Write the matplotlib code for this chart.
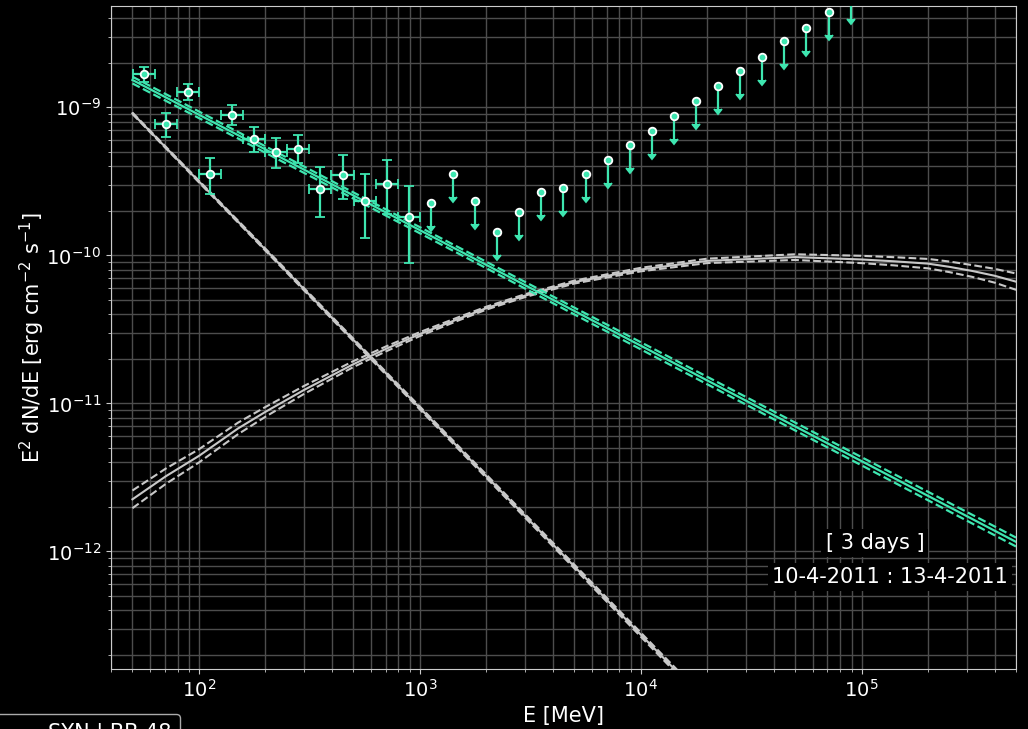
import numpy as np
import matplotlib.pyplot as plt

fs = 15
green = '#3ee6b0'
grey = '#c8c8c8'

# binned detections [MeV] and E^2 dN/dE [erg cm-2 s-1]
E_det = [56.2, 70.8, 89.1, 112, 141, 178, 224, 282, 355, 447, 562, 708, 891]
E_lo = [50.1, 63.1, 79.4, 100, 126, 158, 200, 251, 316, 398, 501, 631, 794]
E_hi = [63.1, 79.4, 100, 126, 158, 200, 251, 316, 398, 501, 631, 794, 1000]
F_det = [1.67e-9, 7.68e-10, 1.27e-9, 3.52e-10, 8.87e-10, 6.14e-10, 4.97e-10,
         5.23e-10, 2.79e-10, 3.49e-10, 2.33e-10, 3.05e-10, 1.81e-10]
F_top = [1.88e-9, 9.11e-10, 1.44e-9, 4.56e-10, 1.04e-9, 7.39e-10, 6.24e-10,
         6.50e-10, 3.94e-10, 4.74e-10, 3.52e-10, 4.40e-10, 2.95e-10]
F_bot = [1.49e-9, 6.33e-10, 1.12e-9, 2.58e-10, 7.59e-10, 4.97e-10, 3.87e-10,
         4.19e-10, 1.82e-10, 2.40e-10, 1.32e-10, 1.90e-10, 8.83e-11]

# upper limits
E_ul = [1122, 1413, 1778, 2239, 2818, 3548, 4467, 5623, 7079, 8913,
        11220, 14130, 17780, 22390, 28180, 35480, 44670, 56230, 70790, 89130]
F_ul = [2.26e-10, 3.52e-10, 2.34e-10, 1.43e-10, 1.97e-10, 2.68e-10, 2.85e-10,
        3.52e-10, 4.41e-10, 5.53e-10, 6.95e-10, 8.77e-10, 1.10e-9, 1.39e-9,
        1.75e-9, 2.18e-9, 2.79e-9, 3.43e-9, 4.39e-9, 5.6e-9]
ul_drop = 0.3

# power-law fit with its bounds
E_pl = [50, 1000, 5e5]
F_pl = [1.53e-9, 1.48e-10, 1.16e-12]
F_pl_up = [1.61e-9, 1.55e-10, 1.24e-12]
F_pl_lo = [1.45e-9, 1.41e-10, 1.08e-12]

# synchrotron tail
E_syn = [50, 1000, 2e4]
F_syn = [9.11e-10, 9.31e-12, 9.50e-14]
F_syn_up = [9.21e-10, 9.52e-12, 9.83e-14]
F_syn_lo = [9.01e-10, 9.10e-12, 9.18e-14]

# inverse Compton bump
E_ic = [50, 70.8, 100, 150, 200, 300, 500, 700, 1000, 1500, 2000, 3000, 5000,
        1e4, 2e4, 5e4, 1e5, 1.4e5, 2e5, 2.5e5, 3.16e5, 4e5, 5e5]
F_ic = [2.25e-12, 3.22e-12, 4.42e-12, 6.76e-12, 8.77e-12, 1.236e-11, 1.84e-11,
        2.33e-11, 2.94e-11, 3.73e-11, 4.40e-11, 5.35e-11, 6.60e-11, 8.02e-11,
        9.18e-11, 9.73e-11, 9.38e-11, 9.12e-11, 8.79e-11, 8.36e-11, 7.85e-11,
        7.28e-11, 6.64e-11]
F_ic_up = [2.58e-12, 3.63e-12, 4.90e-12, 7.40e-12, 9.46e-12, 1.315e-11, 1.93e-11,
           2.42e-11, 3.03e-11, 3.83e-11, 4.50e-11, 5.47e-11, 6.75e-11, 8.24e-11,
           9.50e-11, 1.017e-10, 9.93e-11, 9.72e-11, 9.46e-11, 9.08e-11, 8.60e-11,
           8.11e-11, 7.54e-11]
F_ic_lo = [1.96e-12, 2.86e-12, 3.99e-12, 6.18e-12, 8.13e-12, 1.162e-11, 1.76e-11,
           2.24e-11, 2.85e-11, 3.64e-11, 4.30e-11, 5.23e-11, 6.45e-11, 7.80e-11,
           8.87e-11, 9.31e-11, 8.86e-11, 8.56e-11, 8.17e-11, 7.70e-11, 7.16e-11,
           6.54e-11, 5.85e-11]

fig = plt.figure(figsize=(10.28, 7.29), dpi=100, facecolor='black')
ax = fig.add_axes([0.108, 0.0819, 0.8804, 0.9099])
ax.set_facecolor('black')

# models
ax.plot(E_syn, F_syn, color=grey, lw=1.5, zorder=2, label='SYN | BB 48')
ax.plot(E_syn, F_syn_up, '--', color=grey, lw=1.5, zorder=2)
ax.plot(E_syn, F_syn_lo, '--', color=grey, lw=1.5, zorder=2)

ax.plot(E_ic, F_ic, color=grey, lw=1.5, zorder=2)
ax.plot(E_ic, F_ic_up, '--', color=grey, lw=1.5, zorder=2)
ax.plot(E_ic, F_ic_lo, '--', color=grey, lw=1.5, zorder=2)

ax.plot(E_pl, F_pl, color=green, lw=1.6, zorder=3)
ax.plot(E_pl, F_pl_up, '--', color=green, lw=1.6, zorder=3)
ax.plot(E_pl, F_pl_lo, '--', color=green, lw=1.6, zorder=3)

# data
E_det = np.array(E_det)
F_det = np.array(F_det)
xerr = [E_det - np.array(E_lo), np.array(E_hi) - E_det]
yerr = [F_det - np.array(F_bot), np.array(F_top) - F_det]
ax.errorbar(E_det, F_det, xerr=xerr, yerr=yerr, fmt='o', color=green,
            mfc=green, mec='white', ms=5.5, mew=1.3, elinewidth=1.6,
            capsize=3.8, capthick=1.6, zorder=5)

F_ul = np.array(F_ul)
ax.errorbar(E_ul, F_ul, yerr=F_ul * ul_drop, uplims=True, fmt='o', color=green,
            mfc=green, mec='white', ms=5.5, mew=1.3, elinewidth=1.6,
            capsize=2.6, zorder=5)

ax.set_xscale('log')
ax.set_yscale('log')
ax.set_xlim(40, 5e5)
ax.set_ylim(1.6e-13, 4.835e-9)

ax.grid(True, which='both', color='#4d4d4d', lw=1.0)
ax.set_axisbelow(True)
for s in ax.spines.values():
    s.set_color('#cccccc')
ax.tick_params(which='both', colors='#cccccc', labelcolor='white', labelsize=14)

ax.set_xlabel('E [MeV]', size=fs, color='white')
ax.set_ylabel('E$^{2}$ dN/dE [erg cm$^{-2}$ s$^{-1}$]', size=fs, color='white')
ax.xaxis.set_label_coords(0.5, -0.056)
ax.yaxis.set_label_coords(-0.071, 0.5)

box = dict(facecolor='black', edgecolor='none', pad=3)
ax.text(0.844, 0.19, '[ 3 days ]', transform=ax.transAxes, ha='center',
        va='center', size=fs, color='white', bbox=box, zorder=6)
ax.text(0.861, 0.139, '10-4-2011 : 13-4-2011', transform=ax.transAxes,
        ha='center', va='center', size=fs, color='white', bbox=box, zorder=6)

leg = fig.legend(loc='upper right', bbox_to_anchor=(180 / 1028, 1 - 714 / 729),
                 fontsize=fs, facecolor='black', edgecolor='#aaaaaa',
                 framealpha=1, borderaxespad=0)
for t in leg.get_texts():
    t.set_color('white')

plt.savefig('out.png', dpi=100, facecolor='black')
